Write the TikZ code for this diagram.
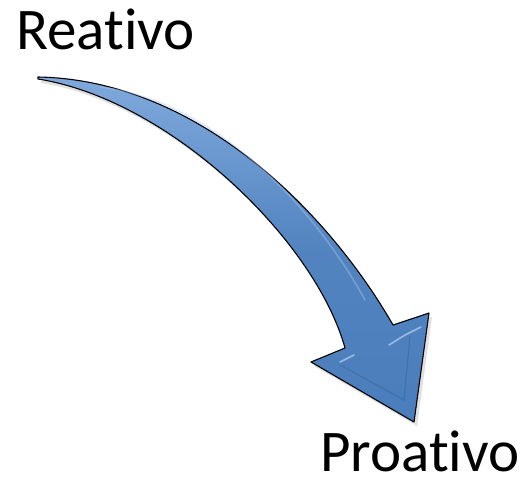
\documentclass[tikz,border=0pt]{standalone}
\usepackage{fontspec}
\setmainfont[Ligatures=NoCommon]{Carlito}
\usetikzlibrary{shadings}
\definecolor{arrowdark}{HTML}{4A7DBB}
\definecolor{arrowlight}{HTML}{7FA9DC}
\definecolor{bevel}{HTML}{A9C8EE}
\tikzset{
  label text/.style={anchor=base west, inner sep=0pt, font=\fontsize{59}{60}\selectfont, text=black},
  arrow body/.style={draw=black, line width=1.1pt, line join=round, top color=arrowlight, bottom color=arrowdark, middle color=arrowdark!85!arrowlight},
  bevel line/.style={draw=bevel, line width=1.6pt, line cap=round, opacity=0.8},
}
\begin{document}
\begin{tikzpicture}[x=1pt, y=-1pt]
\useasboundingbox (0,0) rectangle (523,477);
\node[label text] (reativo) at (16,49.5) {Reativo};
\node[label text] (proativo) at (320,471) {Proativo};
% soft shadow
\fill[black, opacity=0.12, shift={(3,4)}]
  (38,77) .. controls (200,80) and (330,215) .. (393,325)
  -- (429,313) -- (414,422) -- (311,362) -- (345,348)
  .. controls (315,240) and (170,100) .. (38,79) -- cycle;
% arrow body
\path[arrow body]
  (38,77) .. controls (200,80) and (330,215) .. (393,325)
  -- (429,313) -- (414,422) -- (311,362) -- (345,348)
  .. controls (315,240) and (170,100) .. (38,79) -- cycle;
% bevel highlights
\draw[bevel line] (340,362) -- (354,355);
\draw[bevel line] (389,345) -- (405,335) -- (421,327);
\draw[bevel line, opacity=0.4] (100,87) .. controls (210,100) and (310,200) .. (365,300);
\draw[draw=arrowdark!70!black, line width=1.2pt, opacity=0.35] (340,365) -- (404,400) -- (410,336);
\end{tikzpicture}
\end{document}
